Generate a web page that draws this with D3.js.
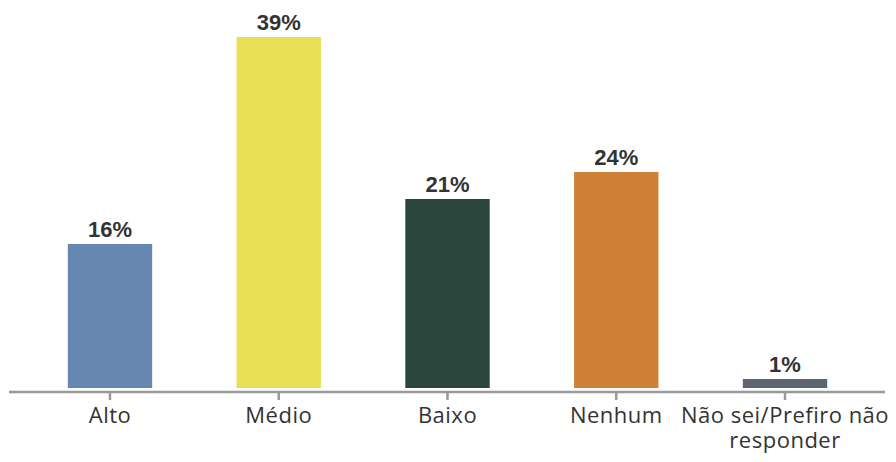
<!DOCTYPE html>
<html>
<head>
<meta charset="utf-8">
<script src="https://cdn.jsdelivr.net/npm/d3@7/dist/d3.min.js"></script>
<style>
  html, body { margin: 0; padding: 0; background: #fff; }
  svg { display: block; }
</style>
</head>
<body>
<svg id="chart" width="896" height="462"></svg>
<script>
// Share of respondents per answer (%)
const categories = ["Alto", "Médio", "Baixo", "Nenhum", "Não sei/Prefiro não responder"];
const values = [16, 39, 21, 24, 1];
const valueLabels = ["16%", "39%", "21%", "24%", "1%"];
const colors = ["#6688b0", "#e8df55", "#2b463d", "#cf8035", "#5d6570"];

const svg = d3.select("#chart");
const baseY = 388;   // bottom of the bars
const axisY = 392;   // category axis line

const x = d3.scaleBand()
  .domain(categories)
  .range([25.6, 869.4])
  .paddingInner(0.5)
  .paddingOuter(0.25);

const y = d3.scaleLinear()
  .domain([0, 39])
  .range([baseY, 37]);

// Bars
svg.append("g")
  .selectAll("rect")
  .data(categories)
  .join("rect")
  .attr("x", d => x(d))
  .attr("width", x.bandwidth())
  .attr("y", (d, i) => y(values[i]))
  .attr("height", (d, i) => baseY - y(values[i]))
  .attr("fill", (d, i) => colors[i]);

// Value labels
svg.append("g")
  .selectAll("text")
  .data(categories)
  .join("text")
  .attr("x", d => x(d) + x.bandwidth() / 2)
  .attr("y", (d, i) => y(values[i]) - 7)
  .attr("text-anchor", "middle")
  .attr("font-family", "'Liberation Sans', Arial, sans-serif")
  .attr("font-weight", "bold")
  .attr("font-size", 22)
  .attr("fill", "#333")
  .text((d, i) => valueLabels[i]);

// Category axis
const axis = svg.append("g")
  .attr("transform", `translate(0,${axisY})`)
  .call(d3.axisBottom(x).tickSize(8).tickSizeOuter(0).tickPadding(7.4));

axis.select(".domain")
  .attr("d", "M9,0H885")
  .attr("stroke", "#999")
  .attr("stroke-width", 2.5);
axis.selectAll(".tick line")
  .attr("stroke", "#999")
  .attr("stroke-width", 2.5);

axis.selectAll(".tick text")
  .attr("font-family", "'Open Sans', sans-serif")
  .attr("font-size", 22)
  .attr("letter-spacing", 0.5)
  .attr("fill", "#333")
  .each(function (d) {
    // Wrap the long answer onto two lines
    const t = d3.select(this);
    if (d.length > 20) {
      t.text(null);
      t.append("tspan").attr("x", 0).attr("dy", "0.71em").text("Não sei/Prefiro não");
      t.append("tspan").attr("x", 0).attr("dy", 25).text("responder");
    }
  });
</script>
</body>
</html>
